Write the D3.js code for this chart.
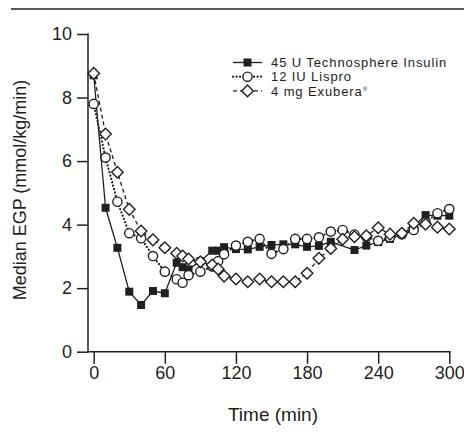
<!DOCTYPE html>
<meta charset="utf-8">
<script src="https://d3js.org/d3.v7.min.js"></script>
<style>
  body { margin: 0; background: #fff; }
  text { font-family: "Liberation Sans", Arial, sans-serif; fill: #231f20; }
</style>
<div id="egp"></div>
<script>

// sampling times (min)
var times = [0, 10, 20, 30, 40, 50, 60, 70, 75, 80, 90, 100, 105, 110, 120, 130, 140, 150,
             160, 170, 180, 190, 200, 210, 220, 230, 240, 250, 260, 270, 280, 290, 300];

// median EGP (mmol/kg/min)
var technosphere = [8.7, 4.53, 3.27, 1.89, 1.47, 1.91, 1.84, 2.80, 2.66, 2.59, 2.85, 3.18, 3.18, 3.29, 3.23, 3.22, 3.30, 3.36,
                    3.38, 3.38, 3.30, 3.33, 3.46, null, 3.20, 3.34, 3.45, 3.55, 3.70, 3.95, 4.30, 4.28, 4.28];
var lispro = [7.80, 6.11, 4.72, 3.73, 3.57, 3.01, 2.52, 2.28, 2.17, 2.41, 2.52, 2.68, 2.85, 3.07, 3.34, 3.46, 3.55, 3.08,
              3.23, 3.55, 3.55, 3.60, 3.78, 3.83, 3.69, 3.62, 3.49, 3.60, 3.70, 3.83, 4.07, 4.36, 4.49];
var exubera = [8.76, 6.85, 5.65, 4.48, 3.80, 3.52, 3.27, 3.10, 3.01, 2.92, 2.83, 2.73, 2.60, 2.38, 2.29, 2.20, 2.29, 2.20,
               2.20, 2.20, 2.47, 2.94, 3.25, 3.54, 3.62, 3.65, 3.90, 3.70, 3.73, 4.04, 4.01, 3.92, 3.86];

var xTicks = [0, 60, 120, 180, 240, 300];
var yTicks = [0, 2, 4, 6, 8, 10];

var seriesNames = ["45 U Technosphere Insulin", "12 IU Lispro", "4 mg Exubera"];

var width = 464, height = 433;

var svg = d3.select("#egp")
  .append("svg")
    .attr("width", width)
    .attr("height", height);

// top rule of the figure panel
svg.append("line")
  .attr("x1", 11).attr("x2", 464)
  .attr("y1", 9).attr("y2", 9)
  .attr("stroke", "#231f20")
  .attr("stroke-width", 1.5);

var x = d3.scaleLinear().domain([0, 300]).range([93.7, 449.3]);
var y = d3.scaleLinear().domain([0, 10]).range([351.7, 34]);

// X axis
var xAxis = svg.append("g")
  .attr("transform", "translate(0," + y(0) + ")")
  .call(d3.axisBottom(x).tickValues(xTicks).tickSize(12).tickSizeOuter(0).tickPadding(3));
xAxis.select(".domain").remove();
xAxis.selectAll("line").attr("stroke", "#231f20").attr("stroke-width", 1.5);
xAxis.selectAll("text").style("font-size", "18px").attr("fill", "#231f20");
svg.append("line")
  .attr("x1", 88).attr("x2", 450.5)
  .attr("y1", y(0)).attr("y2", y(0))
  .attr("stroke", "#231f20").attr("stroke-width", 1.5);

// Y axis
var yAxis = svg.append("g")
  .attr("transform", "translate(88,0)")
  .call(d3.axisLeft(y).tickValues(yTicks).tickSize(11).tickSizeOuter(0).tickPadding(5));
yAxis.select(".domain").remove();
yAxis.selectAll("line").attr("stroke", "#231f20").attr("stroke-width", 1.5);
yAxis.selectAll("text").style("font-size", "18px").attr("fill", "#231f20");
svg.append("line")
  .attr("x1", 88).attr("x2", 88)
  .attr("y1", y(10) - 0.75).attr("y2", y(0) + 0.75)
  .attr("stroke", "#231f20").attr("stroke-width", 1.5);

// axis titles
svg.append("text")
  .attr("x", 273).attr("y", 421)
  .attr("text-anchor", "middle")
  .style("font-size", "19px")
  .text("Time (min)");

svg.append("text")
  .attr("transform", "translate(26,190)rotate(-90)")
  .attr("text-anchor", "middle")
  .style("font-size", "18px")
  .text("Median EGP (mmol/kg/min)");

function pts(vals) {
  return times.map(function(t, i) { return {t: t, v: vals[i]}; })
    .filter(function(d) { return d.v !== null; });
}

var line = d3.line()
  .x(function(d) { return x(d.t); })
  .y(function(d) { return y(d.v); });

var styles = [
  {vals: technosphere, dash: null, width: 1.3, cap: "butt", shape: "square"},
  {vals: lispro, dash: "0.1,3.4", width: 2.2, cap: "round", shape: "circle"},
  {vals: exubera, dash: "4,3", width: 1.3, cap: "butt", shape: "diamond"}
];

function marker(g, shape, cx, cy) {
  if (shape === "square") {
    g.append("rect")
      .attr("x", cx - 4).attr("y", cy - 4)
      .attr("width", 8).attr("height", 8)
      .attr("fill", "#231f20");
  } else if (shape === "circle") {
    g.append("circle")
      .attr("cx", cx).attr("cy", cy).attr("r", 4.6)
      .attr("fill", "#fff")
      .attr("stroke", "#231f20").attr("stroke-width", 1.4);
  } else {
    var r = 5.8;
    g.append("path")
      .attr("d", "M" + cx + "," + (cy - r) + "L" + (cx + r) + "," + cy + "L" + cx + "," + (cy + r) + "L" + (cx - r) + "," + cy + "Z")
      .attr("fill", "#fff")
      .attr("stroke", "#231f20").attr("stroke-width", 1.4);
  }
}

// lines first, then markers
styles.forEach(function(s) {
  svg.append("path")
    .datum(pts(s.vals))
    .attr("d", line)
    .attr("fill", "none")
    .attr("stroke", "#231f20")
    .attr("stroke-width", s.width)
    .attr("stroke-linecap", s.cap)
    .attr("stroke-dasharray", s.dash);
});
styles.forEach(function(s) {
  var g = svg.append("g");
  pts(s.vals).forEach(function(d) { marker(g, s.shape, x(d.t), y(d.v)); });
});

// legend
var legend = svg.append("g");
seriesNames.forEach(function(name, i) {
  var ly = 62.5 + i * 14.2;
  var s = styles[i];
  legend.append("line")
    .attr("x1", 233).attr("x2", 262)
    .attr("y1", ly).attr("y2", ly)
    .attr("stroke", "#231f20")
    .attr("stroke-width", s.width)
    .attr("stroke-linecap", s.cap)
    .attr("stroke-dasharray", s.dash);
  marker(legend, s.shape, 247.5, ly);
  var t = legend.append("text")
    .attr("x", 271).attr("y", ly + 4.7)
    .style("font-size", "13px")
    .style("letter-spacing", "0.9px")
    .text(name);
  if (i === 2) {
    t.append("tspan").attr("dy", -5).style("font-size", "6px").text("®");
  }
});

</script>
